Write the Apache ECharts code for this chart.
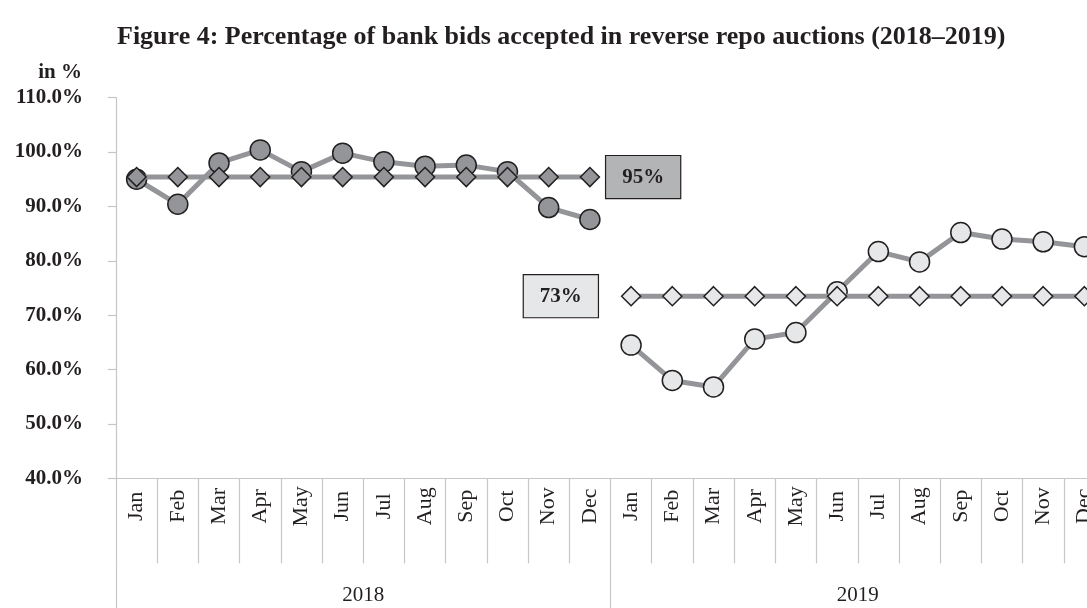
<!DOCTYPE html>
<html>
<head>
<meta charset="utf-8">
<script src="https://cdn.jsdelivr.net/npm/echarts@6/dist/echarts.min.js"></script>
<style>
  html, body { margin: 0; padding: 0; background: #ffffff; overflow: hidden; width: 1087px; height: 608px; }
  #chart { width: 1120px; height: 608px; }
</style>
</head>
<body>
<div id="chart"></div>
<script>
// ---- data ----
const months = ['Jan','Feb','Mar','Apr','May','Jun','Jul','Aug','Sep','Oct','Nov','Dec',
                'Jan','Feb','Mar','Apr','May','Jun','Jul','Aug','Sep','Oct','Nov','Dec'];
const years = ['2018', '2019'];
const accepted2018 = [95.0, 90.4, 98.0, 100.4, 96.4, 99.8, 98.2, 97.4, 97.6, 96.4, 89.8, 87.6,
                      null, null, null, null, null, null, null, null, null, null, null, null];
const average2018 = [95.4, 95.4, 95.4, 95.4, 95.4, 95.4, 95.4, 95.4, 95.4, 95.4, 95.4, 95.4,
                     null, null, null, null, null, null, null, null, null, null, null, null];
const accepted2019 = [null, null, null, null, null, null, null, null, null, null, null, null,
                      64.5, 58.0, 56.8, 65.6, 66.8, 74.3, 81.7, 79.8, 85.2, 84.0, 83.5, 82.6];
const average2019 = [null, null, null, null, null, null, null, null, null, null, null, null,
                     73.5, 73.5, 73.5, 73.5, 73.5, 73.5, 73.5, 73.5, 73.5, 73.5, 73.5, 73.5];
const averageLabels = ['95%', '73%'];
const yTicks = { min: 40, max: 110, interval: 10 };

// ---- styles ----
const SERIF = '"Liberation Serif", "DejaVu Serif", serif';
const INK = '#231f20';
const LINE = '#939598';
const DARK_FILL = '#939598';
const LIGHT_FILL = '#e6e7e8';
const AXIS_GRAY = '#c6c6c6';

function labelled(arr, idx, labelOpt) {
  return arr.map((v, i) => i === idx ? { value: v, label: labelOpt } : v);
}
function boxLabel(text, bg, position, distance) {
  return {
    show: true,
    position: position,
    distance: distance,
    formatter: text,
    backgroundColor: bg,
    borderColor: INK,
    borderWidth: 1.2,
    padding: [11, 16],
    color: INK,
    fontFamily: SERIF,
    fontWeight: 'bold',
    fontSize: 21,
    lineHeight: 20
  };
}

const chart = echarts.init(document.getElementById('chart'), null, { renderer: 'canvas' });

const option = {
  backgroundColor: '#ffffff',
  animation: false,
  title: {
    text: 'Figure 4: Percentage of bank bids accepted in reverse repo auctions (2018\u20132019)',
    left: 112,
    top: 19,
    textStyle: { fontFamily: SERIF, fontWeight: 'bold', fontSize: 26, color: INK }
  },
  graphic: [{
    type: 'text',
    x: 82,
    y: 73,
    style: { text: 'in %', font: 'bold 21px ' + SERIF, fill: INK, textAlign: 'right', textVerticalAlign: 'middle' }
  }],
  grid: { left: 116, right: 15, top: 97.7, height: 380.6, outerBoundsMode: 'none' },
  xAxis: [{
    type: 'category',
    data: months,
    boundaryGap: true,
    position: 'bottom',
    axisLine: { show: true, lineStyle: { color: AXIS_GRAY, width: 1.2 } },
    axisTick: { show: true, interval: 0, length: 85, lineStyle: { color: AXIS_GRAY, width: 1.2 } },
    axisLabel: {
      interval: 0, rotate: 90, align: 'center', margin: 28,
      fontFamily: SERIF, fontSize: 22, color: INK
    }
  }, {
    type: 'category',
    data: years,
    boundaryGap: true,
    position: 'bottom',
    offset: 85,
    axisLine: { show: false },
    axisTick: { show: true, interval: 0, length: 60, lineStyle: { color: AXIS_GRAY, width: 1.2 } },
    axisLabel: { interval: 0, margin: 22, fontFamily: SERIF, fontSize: 21, color: INK }
  }],
  yAxis: {
    type: 'value',
    min: yTicks.min,
    max: yTicks.max,
    interval: yTicks.interval,
    axisLine: { show: true, lineStyle: { color: AXIS_GRAY, width: 1.2 } },
    axisTick: { show: true, length: 8, lineStyle: { color: AXIS_GRAY, width: 1.2 } },
    splitLine: { show: false },
    axisLabel: {
      margin: 33,
      formatter: v => v.toFixed(1) + '%',
      fontFamily: SERIF, fontWeight: 'bold', fontSize: 21, color: INK
    }
  },
  series: [{
    name: 'Accepted 2018',
    type: 'line',
    data: accepted2018,
    symbol: 'circle',
    symbolSize: 20,
    lineStyle: { color: LINE, width: 5 },
    itemStyle: { color: DARK_FILL, borderColor: INK, borderWidth: 1.5 },
    z: 2
  }, {
    name: 'Average 2018',
    type: 'line',
    data: labelled(average2018, 11, boxLabel(averageLabels[0], '#b3b4b6', 'right', 6)),
    symbol: 'diamond',
    symbolSize: 19,
    lineStyle: { color: LINE, width: 5 },
    itemStyle: { color: DARK_FILL, borderColor: INK, borderWidth: 1.5 },
    z: 3
  }, {
    name: 'Accepted 2019',
    type: 'line',
    data: accepted2019,
    symbol: 'circle',
    symbolSize: 20,
    lineStyle: { color: LINE, width: 5 },
    itemStyle: { color: LIGHT_FILL, borderColor: INK, borderWidth: 1.5 },
    z: 2
  }, {
    name: 'Average 2019',
    type: 'line',
    data: labelled(average2019, 12, boxLabel(averageLabels[1], LIGHT_FILL, 'left', 23)),
    symbol: 'diamond',
    symbolSize: 19,
    lineStyle: { color: LINE, width: 5 },
    itemStyle: { color: LIGHT_FILL, borderColor: INK, borderWidth: 1.5 },
    z: 3
  }]
};
chart.setOption(option);
</script>
</body>
</html>
